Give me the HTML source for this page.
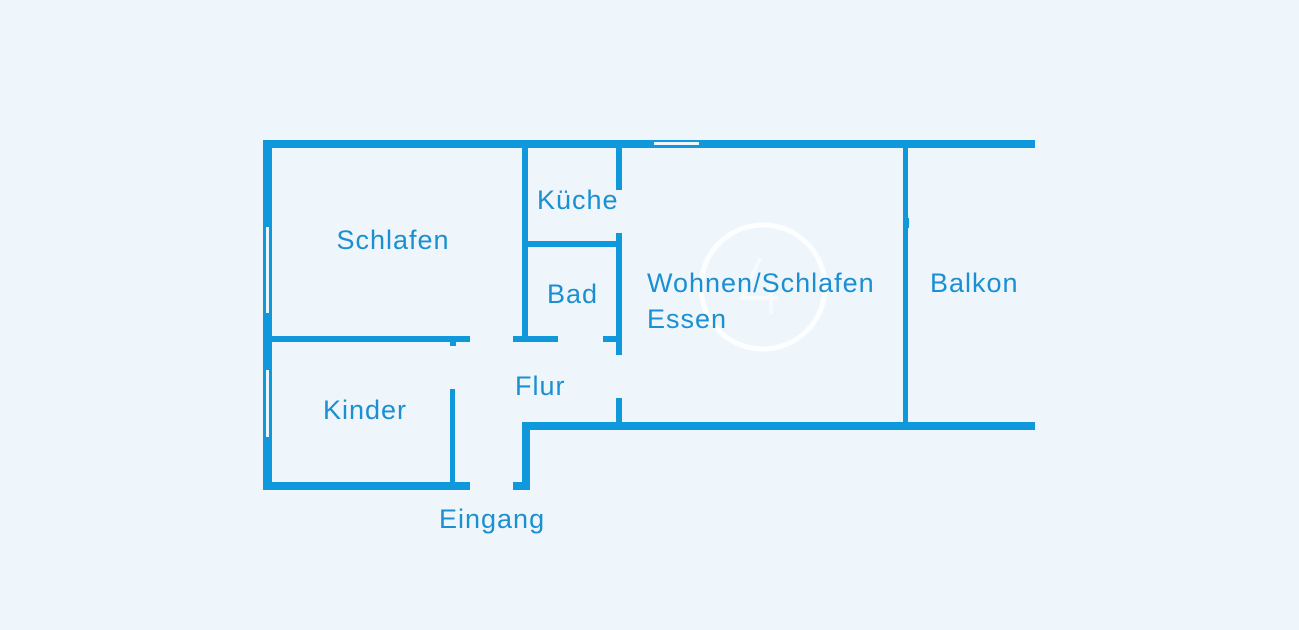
<!DOCTYPE html>
<html><head><meta charset="utf-8"><style>
html,body{margin:0;padding:0;background:#eef6fc;}
svg{display:block}
text{font-family:"Liberation Sans",sans-serif;font-size:27px;letter-spacing:1px;fill:#1a8fd2;}
</style></head><body>
<svg width="1299" height="630" viewBox="0 0 1299 630" xmlns="http://www.w3.org/2000/svg">
<rect width="1299" height="630" fill="#eef6fc"/>
<g fill="#0f98dc">
<rect x="263" y="140" width="772" height="8"/>
<rect x="263" y="140" width="9" height="350"/>
<rect x="263" y="482" width="207" height="8"/>
<rect x="272" y="336" width="198" height="6"/>
<rect x="450" y="336" width="6" height="10"/>
<rect x="450" y="389" width="5" height="95"/>
<rect x="513" y="482" width="17" height="8"/>
<rect x="522" y="423" width="8" height="67"/>
<rect x="522" y="422" width="513" height="8"/>
<rect x="522" y="148" width="6" height="192"/>
<rect x="513" y="336" width="45" height="6"/>
<rect x="603" y="336" width="17" height="6"/>
<rect x="528" y="241" width="88" height="6"/>
<rect x="616" y="148" width="6" height="42"/>
<rect x="616" y="233" width="6" height="122"/>
<rect x="616" y="398" width="6" height="25"/>
<rect x="903" y="148" width="5" height="275"/>
<rect x="904" y="218" width="5" height="10"/>
</g>
<rect x="654" y="142" width="45" height="3" fill="#eef6fc"/>
<rect x="266" y="227" width="3" height="86" fill="#eef6fc"/>
<rect x="266" y="370" width="3" height="67" fill="#eef6fc"/>
<circle cx="763" cy="287" r="62" fill="none" stroke="#ffffff" stroke-width="5" opacity="0.85"/>
<path d="M760 258 L742 298 L778 298 M771 280 L771 314" fill="none" stroke="#ffffff" stroke-width="4" opacity="0.5"/>
<text x="393" y="249" text-anchor="middle">Schlafen</text>
<text x="537" y="209">Küche</text>
<text x="547" y="303">Bad</text>
<text x="647" y="292">Wohnen/Schlafen</text>
<text x="647" y="328">Essen</text>
<text x="930" y="292">Balkon</text>
<text x="515" y="395">Flur</text>
<text x="323" y="419">Kinder</text>
<text x="439" y="528">Eingang</text>
</svg>
</body></html>
